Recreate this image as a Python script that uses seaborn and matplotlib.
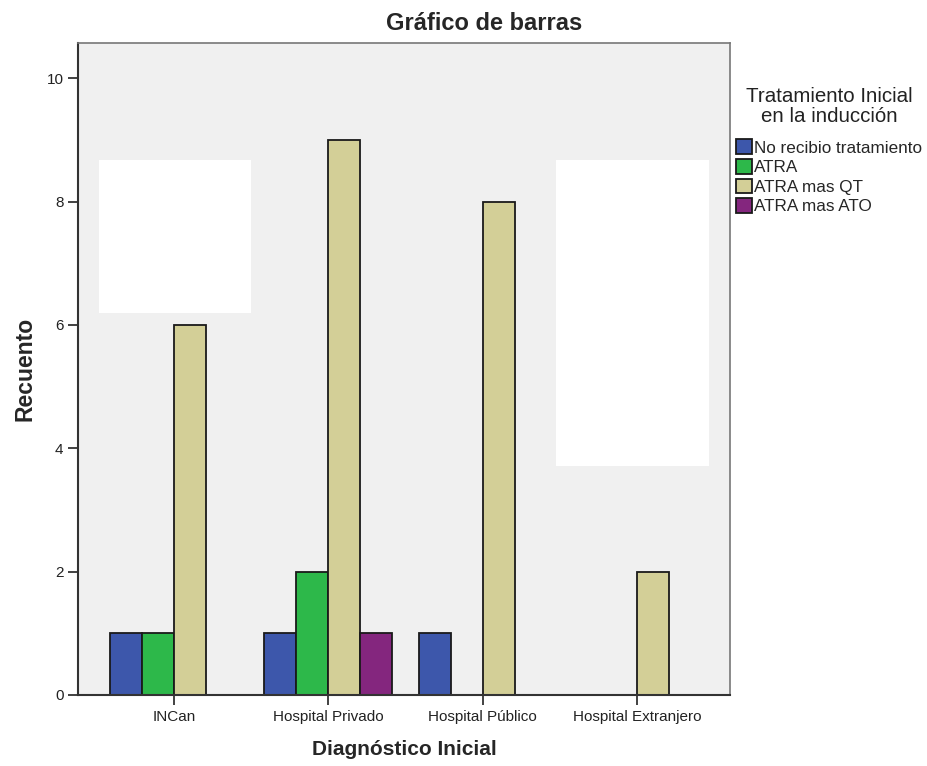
import matplotlib
matplotlib.use("Agg")
import matplotlib.pyplot as plt
import seaborn as sns
import pandas as pd
from matplotlib.patches import Rectangle

categories = ["INCan", "Hospital Privado", "Hospital Público", "Hospital Extranjero"]
treatments = ["No recibio tratamiento", "ATRA", "ATRA mas QT", "ATRA mas ATO"]
no_recibio = [1, 1, 1, 0]
atra = [1, 2, 0, 0]
atra_qt = [6, 9, 8, 2]
atra_ato = [0, 1, 0, 0]
colors = ["#3D57AB", "#2DB84A", "#D3CF97", "#84267E"]
yticks = [0, 2, 4, 6, 8, 10]

rows = []
for t, vals in zip(treatments, [no_recibio, atra, atra_qt, atra_ato]):
    for c, v in zip(categories, vals):
        rows.append({"Diagnóstico Inicial": c, "Tratamiento": t, "Recuento": v})
df = pd.DataFrame(rows)

sns.set_style("white")
plt.rcParams["font.family"] = ["Liberation Sans", "DejaVu Sans"]

fig = plt.figure(figsize=(9.27, 7.66), dpi=100)
ax = fig.add_axes([0.0841, 0.0927, 0.7034, 0.8512])
ax.set_facecolor("#F0F0F0")

# white redaction boxes present in the reference
ax.add_patch(Rectangle((-0.486, 6.20), 0.985, 2.47, facecolor="white", edgecolor="none", zorder=0.5))
ax.add_patch(Rectangle((2.476, 3.71), 0.991, 4.96, facecolor="white", edgecolor="none", zorder=0.5))

sns.barplot(data=df, x="Diagnóstico Inicial", y="Recuento", hue="Tratamiento",
            order=categories, hue_order=treatments, palette=colors,
            width=0.83, edgecolor="#1a1a1a", linewidth=1.3, saturation=1,
            errorbar=None, ax=ax, zorder=2)

ax.set_xlim(-0.622, 3.603)
ax.set_ylim(0, 10.57)
ax.set_yticks(yticks)
ax.set_yticklabels([str(v) for v in yticks])

for side in ["left", "bottom"]:
    ax.spines[side].set_color("#333333")
    ax.spines[side].set_linewidth(1.5)
for side in ["top", "right"]:
    ax.spines[side].set_color("#777777")
    ax.spines[side].set_linewidth(1.2)
ax.tick_params(axis="both", direction="out", length=7, width=1.3, color="#333333",
               labelsize=11, labelcolor="#222222", left=True, bottom=True)

ax.set_xlabel("Diagnóstico Inicial", fontsize=15, fontweight="bold", labelpad=12)
ax.set_ylabel("Recuento", fontsize=16.5, fontweight="bold", labelpad=7)
fig.text(484 / 927, 1 - 24 / 766, "Gráfico de barras", ha="center", va="center",
         fontsize=17, fontweight="bold")

handles, labels = ax.get_legend_handles_labels()
ax.legend(handles, labels,
          loc="upper left", bbox_to_anchor=(1.009, 0.852), frameon=False,
          fontsize=12.3, handlelength=0.93, handleheight=0.93,
          handletextpad=0.15, labelspacing=0.2, borderaxespad=0, borderpad=0)
ax.text(1.152, 0.902, "Tratamiento Inicial\nen la inducción", transform=ax.transAxes,
        ha="center", va="center", multialignment="center", fontsize=14.8,
        color="#222222", linespacing=1.05)

fig.savefig("out.png", dpi=100)
